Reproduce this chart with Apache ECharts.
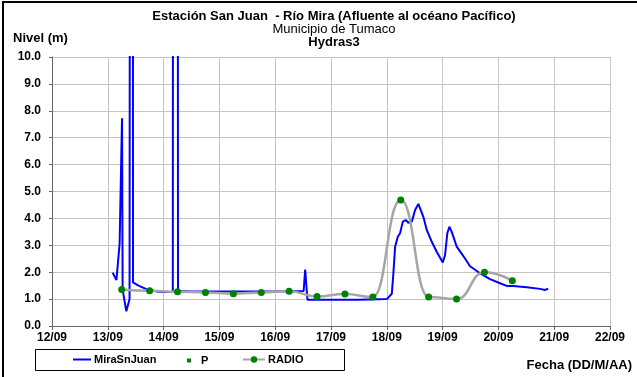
<!DOCTYPE html>
<html>
<head>
<meta charset="utf-8">
<script src="https://cdn.jsdelivr.net/npm/echarts@6/dist/echarts.min.js"></script>
<style>
html,body{margin:0;padding:0;background:#fff;}
#c{width:637px;height:377px;}
</style>
</head>
<body>
<div id="c"></div>
<script>
// ---- data ----
const xTickLabels = ['12/09','13/09','14/09','15/09','16/09','17/09','18/09','19/09','20/09','21/09','22/09'];
const yTickLabels = ['0.0','1.0','2.0','3.0','4.0','5.0','6.0','7.0','8.0','9.0','10.0'];

// MiraSnJuan: day of September (fractional) and level (m); 15 = spike running off the top of the chart
const mirDays = [13.087, 13.155, 13.212, 13.255, 13.266, 13.332, 13.39, 13.395, 13.45, 13.452, 13.55, 13.703, 13.91, 14.05, 14.165, 14.168, 14.255, 14.258, 14.5, 15.0, 15.5, 16.0, 16.51, 16.537, 16.578, 17.0, 17.5, 18.0, 18.029, 18.09, 18.118, 18.149, 18.197, 18.238, 18.287, 18.34, 18.387, 18.448, 18.507, 18.566, 18.596, 18.655, 18.716, 18.806, 18.895, 19.003, 19.044, 19.085, 19.121, 19.164, 19.253, 19.372, 19.492, 19.671, 19.85, 20.029, 20.149, 20.267, 20.507, 20.745, 20.834, 20.893];
const mirValues = [1.98, 1.71, 3.07, 7.72, 1.34, 0.55, 1.0, 15, 15, 1.62, 1.5, 1.36, 1.27, 1.26, 1.26, 15, 15, 1.3, 1.28, 1.28, 1.28, 1.28, 1.3, 2.1, 0.98, 0.98, 0.98, 1.0, 1.03, 1.2, 1.96, 2.95, 3.32, 3.45, 3.88, 3.94, 3.84, 3.88, 4.31, 4.54, 4.5, 4.06, 3.57, 3.13, 2.76, 2.36, 2.64, 3.45, 3.69, 3.5, 2.95, 2.6, 2.22, 1.96, 1.74, 1.59, 1.49, 1.49, 1.44, 1.38, 1.34, 1.39];

// P: no visible points in the reference
const pDays = [];
const pValues = [];

// RADIO: 12-hourly readings
const radioDays = [13.25, 13.75, 14.25, 14.75, 15.25, 15.75, 16.25, 16.75, 17.25, 17.75, 18.25, 18.75, 19.25, 19.75, 20.25];
const radioValues = [1.36, 1.31, 1.27, 1.25, 1.2, 1.25, 1.29, 1.1, 1.19, 1.08, 4.68, 1.08, 1.0, 2.0, 1.68];

const seriesNames = ['MiraSnJuan', 'P', 'RADIO'];

function pairs(xs, ys){ return xs.map((x,i)=>[x, ys[i]]); }

const FONT = '"Liberation Sans", Arial, sans-serif';
const chart = echarts.init(document.getElementById('c'), null, {renderer:'canvas'});

chart.setOption({
  animation: false,
  backgroundColor: '#fff',
  grid: {left: 52, top: 57, width: 558, height: 269, containLabel: false},
  xAxis: {
    type: 'value', min: 12, max: 22, interval: 1,
    axisLine: {show: true, onZero: false, lineStyle: {color: '#666', width: 1}},
    axisTick: {show: true, length: 4, lineStyle: {color: '#666'}},
    axisLabel: {
      color: '#000', fontFamily: FONT, fontWeight: 'bold', fontSize: 12, margin: 6,
      formatter: v => xTickLabels[Math.round(v - 12)]
    },
    splitLine: {show: true, lineStyle: {color: '#c4c4c4', width: 1}}
  },
  yAxis: {
    type: 'value', min: 0, max: 10, interval: 1,
    axisLine: {show: true, lineStyle: {color: '#666', width: 1}},
    axisTick: {show: true, length: 3, lineStyle: {color: '#666'}},
    axisLabel: {
      color: '#000', fontFamily: FONT, fontWeight: 'bold', fontSize: 12, margin: 11,
      formatter: v => yTickLabels[Math.round(v)]
    },
    splitLine: {show: true, lineStyle: {color: '#c4c4c4', width: 1}}
  },
  legend: [
    {left: 72, top: 354, padding: 0, data: ['MiraSnJuan'], itemWidth: 18, itemHeight: 8, itemGap: 0,
     textStyle: {fontFamily: FONT, fontWeight: 'bold', fontSize: 11, color: '#000', padding: [0,0,0,-2]},
     itemStyle: {opacity: 0}},
    {left: 182, top: 355, padding: 0, data: ['P'], itemWidth: 14, itemHeight: 5, itemGap: 0,
     textStyle: {fontFamily: FONT, fontWeight: 'bold', fontSize: 11, color: '#000'},
     lineStyle: {opacity: 0}},
    {left: 242, top: 354, padding: 0, data: ['RADIO'], itemWidth: 22, itemHeight: 8, itemGap: 0,
     textStyle: {fontFamily: FONT, fontWeight: 'bold', fontSize: 11, color: '#000', padding: [0,0,0,-2]}}
  ],
  graphic: [
    {type: 'rect', shape: {x: 3, y: 2, width: 700, height: 500}, style: {fill: 'none', stroke: '#000', lineWidth: 2}, silent: true, z: 100},
    {type: 'rect', shape: {x: 35.5, y: 349.5, width: 309, height: 21}, style: {fill: 'none', stroke: '#000', lineWidth: 1}, silent: true},
    {type: 'text', style: {text: 'Estación San Juan  - Río Mira (Afluente al océano Pacífico)', x: 334, y: 16, textAlign: 'center', textVerticalAlign: 'middle', font: 'bold 13px ' + FONT, fill: '#000'}},
    {type: 'text', style: {text: 'Municipio de Tumaco', x: 334, y: 29, textAlign: 'center', textVerticalAlign: 'middle', font: '13px ' + FONT, fill: '#000'}},
    {type: 'text', style: {text: 'Hydras3', x: 334, y: 42, textAlign: 'center', textVerticalAlign: 'middle', font: 'bold 13px ' + FONT, fill: '#000'}},
    {type: 'text', style: {text: 'Nivel (m)', x: 13, y: 38, textAlign: 'left', textVerticalAlign: 'middle', font: 'bold 13px ' + FONT, fill: '#000'}},
    {type: 'text', style: {text: 'Fecha (DD/M/AA)', x: 632, y: 365, textAlign: 'right', textVerticalAlign: 'middle', font: 'bold 13px ' + FONT, fill: '#000'}}
  ],
  series: [
    {name: seriesNames[0], type: 'line', data: pairs(mirDays, mirValues), showSymbol: false, symbol: 'none',
     lineStyle: {color: '#0000ff', width: 2}, itemStyle: {color: '#0000ff'}, clip: true, z: 3},
    {name: seriesNames[1], type: 'line', data: pairs(pDays, pValues), symbol: 'rect', symbolSize: 4,
     lineStyle: {width: 0, opacity: 0}, itemStyle: {color: '#008000'}},
    {name: seriesNames[2], type: 'line', data: pairs(radioDays, radioValues), smooth: 0.5, smoothMonotone: 'x', symbol: 'circle', symbolSize: 7,
     lineStyle: {color: '#a6a6a6', width: 2.5}, itemStyle: {color: '#008000'}, z: 4}
  ]
});
</script>
</body>
</html>
